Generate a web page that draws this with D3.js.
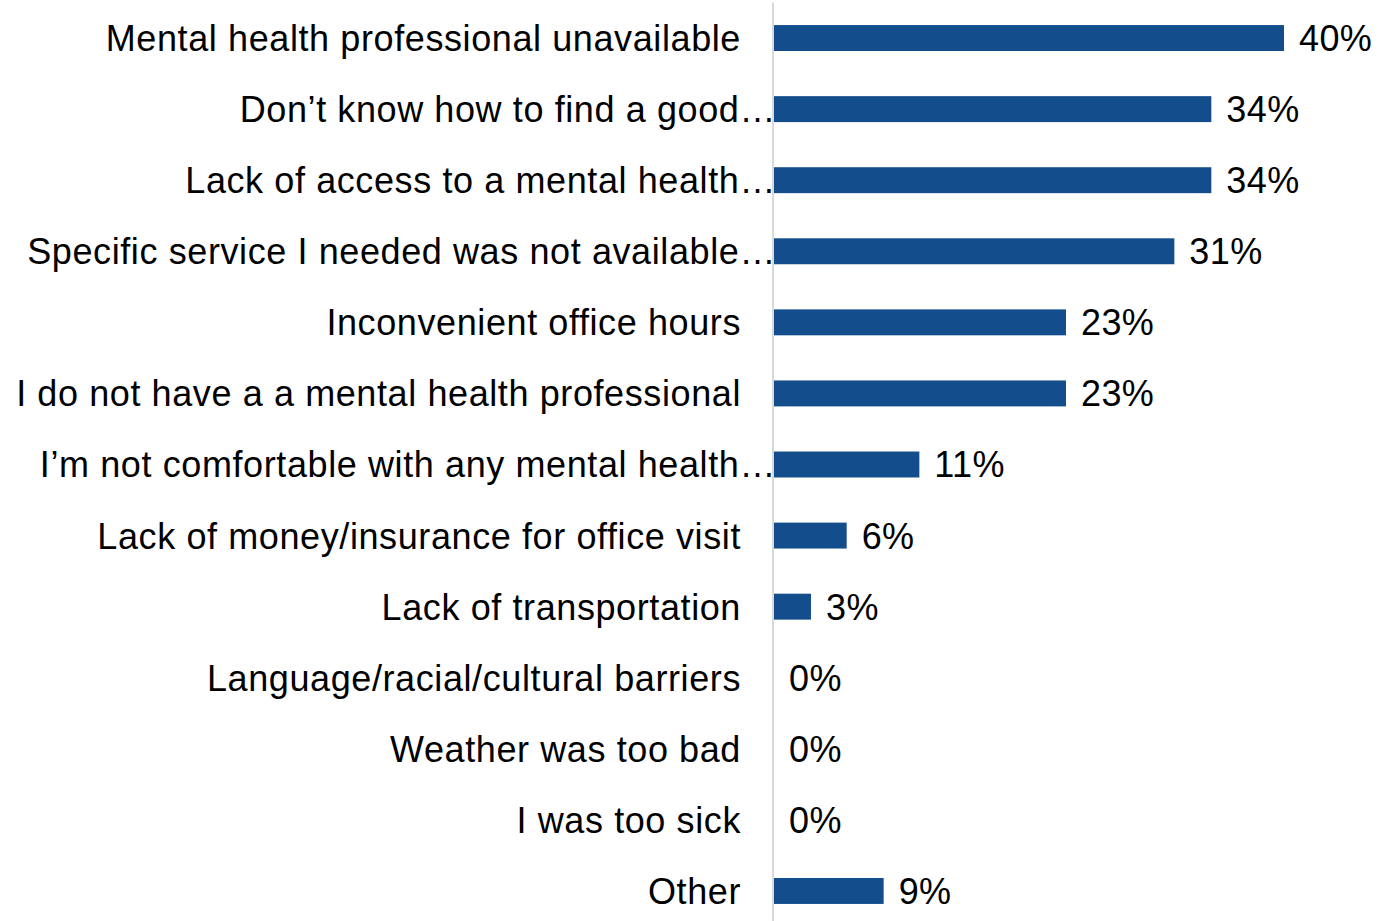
<!DOCTYPE html>
<html>
<head>
<meta charset="utf-8">
<script src="https://cdn.jsdelivr.net/npm/d3@7"></script>
<style>
  html, body { margin: 0; padding: 0; background: #fff; }
  svg { display: block; }
  text { font-family: "Liberation Sans", Arial, sans-serif; fill: #000; }
</style>
</head>
<body>
<svg id="chart" width="1390" height="921"></svg>
<script>
const categories = [
  "Mental health professional unavailable",
  "Don’t know how to find a good…",
  "Lack of access to a mental health…",
  "Specific service I needed was not available…",
  "Inconvenient office hours",
  "I do not have a a mental health professional",
  "I’m not comfortable with any mental health…",
  "Lack of money/insurance for office visit",
  "Lack of transportation",
  "Language/racial/cultural barriers",
  "Weather was too bad",
  "I was too sick",
  "Other"
];
const values = [40.0, 34.3, 34.3, 31.4, 22.9, 22.9, 11.4, 5.7, 2.9, 0, 0, 0, 8.6];
const valueLabels = ["40%", "34%", "34%", "31%", "23%", "23%", "11%", "6%", "3%", "0%", "0%", "0%", "9%"];

const svg = d3.select("#chart");
const x0 = 774;
const x = d3.scaleLinear().domain([0, 40]).range([x0, 1284]);
const y = d3.scaleBand().domain(categories).range([2.5, 926.5])
  .paddingInner(0.635).paddingOuter(0.3175);

const fontSize = 36;

// axis line
svg.append("line")
  .attr("x1", x0 - 1).attr("x2", x0 - 1)
  .attr("y1", y.range()[0]).attr("y2", y.range()[1])
  .attr("stroke", "#d9d9d9").attr("stroke-width", 2);

// bars
svg.selectAll("rect.bar").data(values).join("rect")
  .attr("class", "bar")
  .attr("x", x(0))
  .attr("y", (d, i) => y(categories[i]))
  .attr("width", d => x(d) - x(0))
  .attr("height", y.bandwidth())
  .attr("fill", "#134d8c");

// category labels
svg.selectAll("text.cat").data(categories).join("text")
  .attr("class", "cat")
  .attr("x", d => d.endsWith("…") ? 776 : 741)
  .attr("y", d => y(d) + y.bandwidth() / 2)
  .attr("dy", "0.36em")
  .attr("text-anchor", "end")
  .attr("font-size", fontSize)
  .attr("letter-spacing", "0.6px")
  .text(d => d);

// value labels
svg.selectAll("text.val").data(values).join("text")
  .attr("class", "val")
  .attr("x", d => x(d) + 15)
  .attr("y", (d, i) => y(categories[i]) + y.bandwidth() / 2)
  .attr("dy", "0.36em")
  .attr("font-size", fontSize)
  .attr("letter-spacing", "0.4px")
  .text((d, i) => valueLabels[i]);
</script>
</body>
</html>
